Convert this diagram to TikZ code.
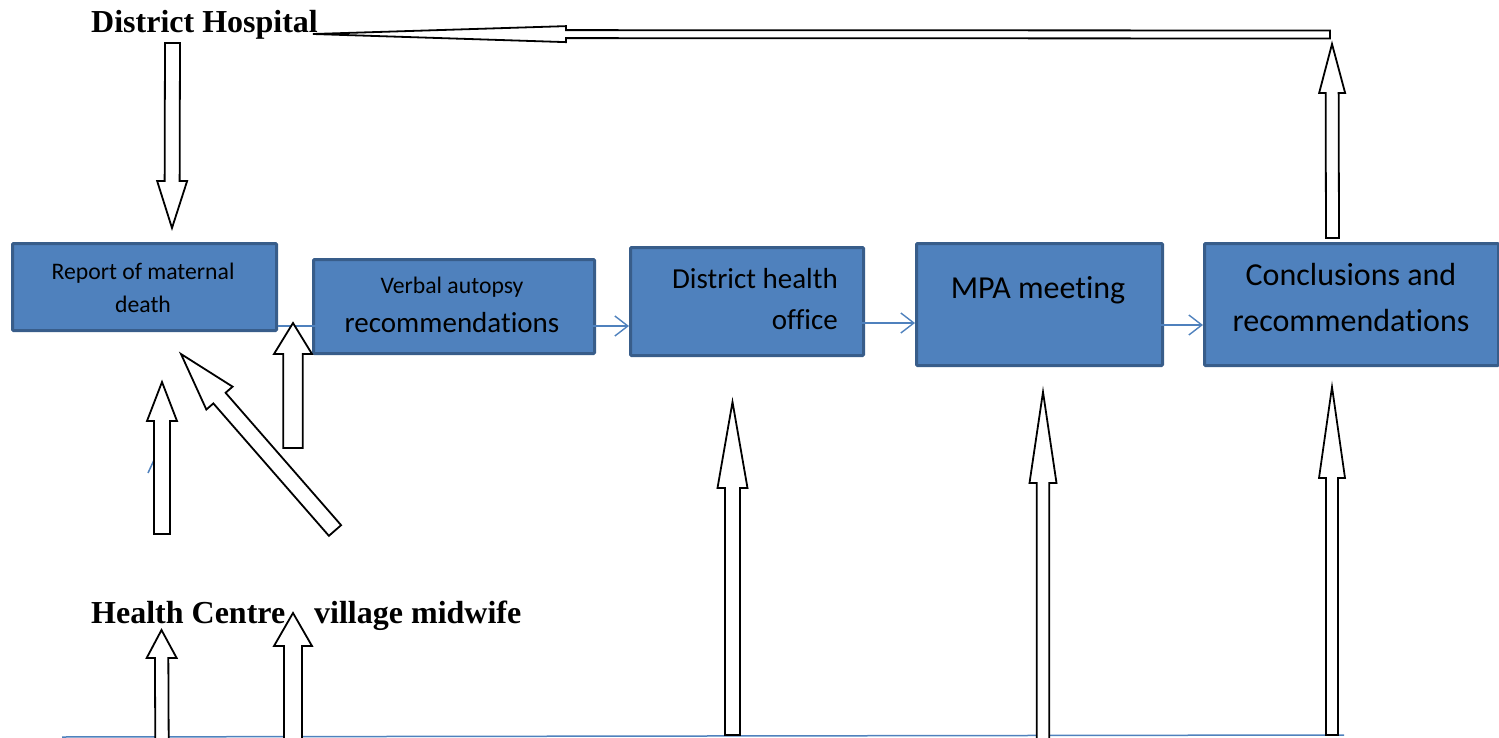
\documentclass[tikz,border=0pt]{standalone}
\usepackage{fontspec}
\setmainfont{Liberation Serif}
\newfontfamily\boxfont[Ligatures=NoCommon]{Carlito}
\usetikzlibrary{arrows.meta,calc}
\definecolor{boxfill}{HTML}{4F81BD}
\definecolor{boxedge}{HTML}{385D8A}
\tikzset{
  stagebox/.style={draw=boxedge, fill=boxfill, line width=3pt, rounded corners=1pt, anchor=north west, inner sep=0pt},
  flow/.style={draw=boxfill, line width=1.4pt, -{Straight Barb[length=13pt,width=20pt,line width=1.4pt]}},
  baseline line/.style={draw=boxfill, line width=1.5pt},
  blockarrow/.style={draw=black, fill=white, line width=1.8pt, line join=miter},
  heading/.style={font=\fontsize{32}{38}\selectfont\bfseries, anchor=base west, inner sep=0pt},
  btext/.style={font=\boxfont\fontsize{#1}{#1}\selectfont, anchor=base, inner sep=0pt},
}
% tail x, tail y, tip x, tip y (pixels, y downwards), shaft half width, head half width, head length
\newcommand\blockarr[7]{%
  \pgfmathsetmacro\baang{atan2((#2)-(#4),(#3)-(#1))}%
  \pgfmathsetmacro\balen{veclen((#3)-(#1),(#4)-(#2))}%
  \pgfmathsetmacro\babase{\balen-(#7)}%
  \draw[blockarrow,shift={(#1,-#2)},rotate=\baang] (0,-#5) -- (\babase,-#5) -- (\babase,-#6) -- (\balen,0) -- (\babase,#6) -- (\babase,#5) -- (0,#5) -- cycle;}
\begin{document}
\begin{tikzpicture}[x=1pt,y=1pt]
\useasboundingbox (0,0) rectangle (1499,-738);

% boxes
\node[stagebox, minimum width=264pt, minimum height=87pt] (rep) at (11,-242) {};
\node[stagebox, minimum width=281pt, minimum height=94pt] (va) at (312,-258) {};
\node[stagebox, minimum width=233pt, minimum height=108pt] (dho) at (629,-246) {};
\node[stagebox, minimum width=246pt, minimum height=122pt] (mpa) at (915,-242) {};
\node[stagebox, minimum width=294pt, minimum height=122pt] (conc) at (1203,-242) {};

% box texts
\node[btext=23.7] (t1) at (143,-279) {Report of maternal};
\node[btext=23.7] (t2) at (143,-312) {death};
\node[btext=23.7] (t3) at (452,-293) {Verbal autopsy};
\node[btext=29] (t4) at (452,-332) {recommendat\kern0pt ions};
\node[btext=29, anchor=base east] (t5) at (838,-288) {District health};
\node[btext=29, anchor=base east] (t6) at (838,-329) {office};
\node[btext=32] (t7) at (1038,-298) {MPA meeting};
\node[btext=32] (t8) at (1351,-285) {Conclusions and};
\node[btext=32] (t9) at (1351,-331) {recommendat\kern0pt ions};

% headings
\node[heading] (dh) at (91,-33) {District Hospital};
\node[heading] (hc) at (91,-623) {Health Centre};
\node[heading] (vm) at (314,-623) {village midwife};

% blue connectors
\coordinate (e1) at (336,-326);
\coordinate (s2) at (561,-326);
\coordinate (s3) at (858,-323);
\coordinate (s4) at (1139,-325);
\draw[flow] (rep.south east |- e1) -- (e1);
\draw[flow] (s2) -- (s2 -| dho.west);
\draw[flow] (s3) -- (s3 -| mpa.west);
\draw[flow] (s4) -- (s4 -| conc.west);
\coordinate (b1) at (148,-473);
\coordinate (b2) at (154,-460);
\draw[baseline line] (b1) -- (b2);
\coordinate (g1) at (62,-737);
\coordinate (g2) at (1344,-735);
\draw[baseline line] (g1) -- (g2);

% block arrows
\blockarr{172.5}{43}{172}{228}{7.5}{15}{47}
\blockarr{1330}{34.5}{313}{34}{4}{8}{253}
\blockarr{1332.5}{238}{1332}{44}{6.5}{13}{49}
\blockarr{162}{534}{162}{382}{8}{15}{39}
\blockarr{335}{530.5}{181}{354}{8.1}{17.4}{58.5}
\blockarr{293}{448}{293}{323}{9.75}{19}{31}
\blockarr{162}{742}{161.5}{630}{6.7}{15}{28}
\blockarr{293}{742}{293}{613}{9}{19}{33}
\blockarr{732.5}{735}{732.5}{402}{7.5}{15}{86}
\blockarr{1043}{742}{1043}{392}{6.25}{13.5}{91}
\blockarr{1332}{735}{1332}{387}{6}{13}{91}
\end{tikzpicture}
\end{document}
